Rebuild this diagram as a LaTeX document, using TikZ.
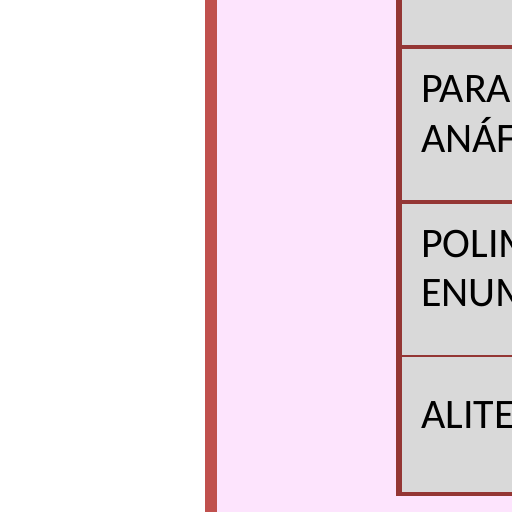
\documentclass[tikz,border=0pt]{standalone}
\usepackage{fontspec}
\setmainfont{Carlito}
\definecolor{barred}{HTML}{C0504D}
\definecolor{bgpink}{HTML}{FDE4FD}
\definecolor{rulered}{HTML}{943634}
\definecolor{cellgrey}{HTML}{D9D9D9}

\begin{document}
\begin{tikzpicture}[
  x=1pt, y=-1pt,
  rule/.style={draw=rulered, line width=4.5pt},   % heavy table rules
  thinrule/.style={draw=rulered, line width=2pt}, % light table rule
  word/.style={anchor=base west, inner sep=0pt, font=\fontsize{42}{50}\selectfont}
]
\useasboundingbox (0,0) rectangle (512,512);
% Background panel and side bar
\fill[bgpink] (217,0) rectangle (512,512);
\fill[barred] (205,0) rectangle (217,512);

% Table column
\fill[cellgrey] (399,-10) rectangle (520,494);
\draw[rule] (399,47) -- (520,47);
\draw[rule] (399,202) -- (520,202);
\draw[thinrule] (399,356) -- (520,356);
\draw[rule] (396.75,494) -- (520,494);
\draw[draw=rulered, line width=6pt] (399,-10) -- (399,496);

% Cell texts
\node[word] (para)  at (421,102) {PARA};
\node[word] (anaf)  at (421,152) {ANÁF};
\node[word] (polim) at (421,257) {POLIM};
\node[word] (enum)  at (421,306) {ENUM};
\node[word] (alite) at (421,428) {ALITE};

\end{tikzpicture}
\end{document}
